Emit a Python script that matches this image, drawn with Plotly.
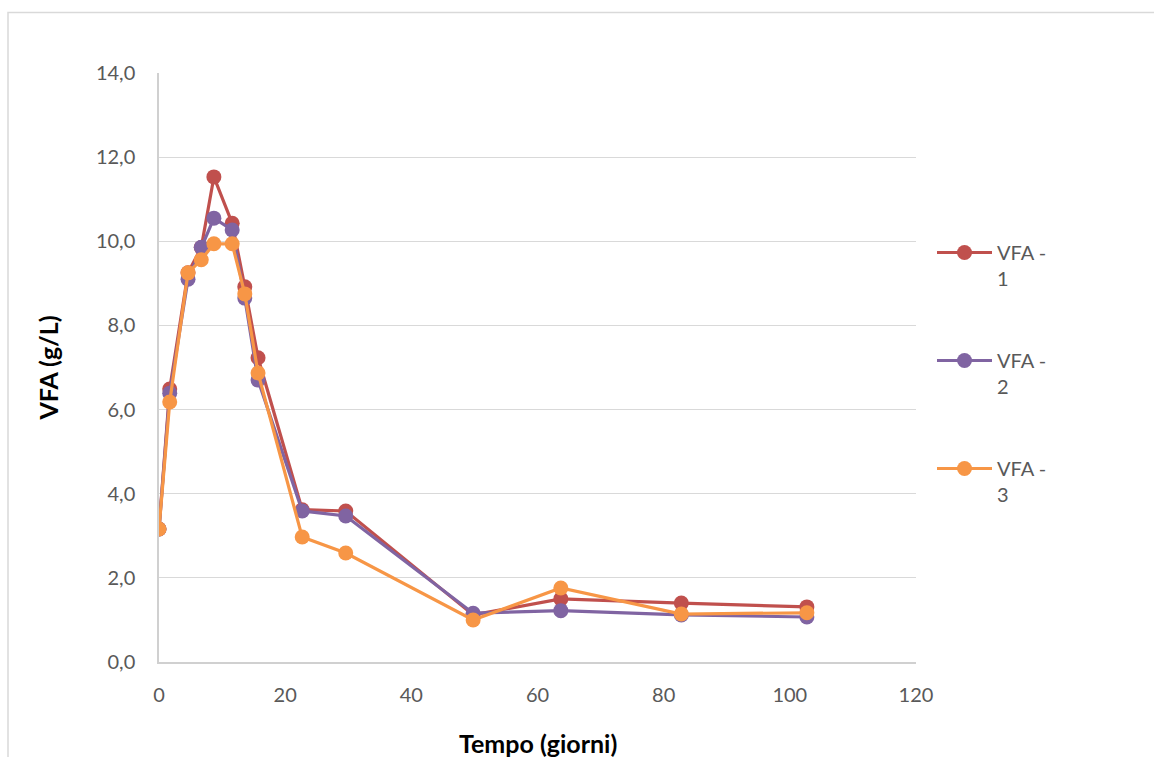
import plotly.graph_objects as go

# Sampling days and VFA concentrations (g/L) for the three reactors
giorni = [0, 1.7, 4.6, 6.7, 8.7, 11.6, 13.6, 15.7, 22.7, 29.6, 49.8, 63.7, 82.8, 102.7]
vfa_1 = [3.16, 6.49, 9.25, 9.85, 11.53, 10.43, 8.92, 7.23, 3.62, 3.59, 1.12, 1.50, 1.40, 1.31]
vfa_2 = [3.16, 6.39, 9.10, 9.86, 10.55, 10.27, 8.65, 6.70, 3.59, 3.47, 1.16, 1.22, 1.12, 1.07]
vfa_3 = [3.16, 6.18, 9.25, 9.56, 9.94, 9.94, 8.75, 6.87, 2.97, 2.59, 1.00, 1.76, 1.14, 1.17]

serie = [
    ("VFA -<br>1", vfa_1, "#C0504D"),
    ("VFA -<br>2", vfa_2, "#8064A2"),
    ("VFA -<br>3", vfa_3, "#F79646"),
]

FONT = "Lato"
W, H = 1154, 757
L, R, T, B = 159, 916, 73, 662

fig = go.Figure()
for i, (nome, valori, colore) in enumerate(serie):
    fig.add_trace(go.Scatter(
        x=giorni, y=valori, name=nome, mode="lines+markers",
        legendgroup=f"g{i}",
        line=dict(color=colore, width=3.2),
        marker=dict(color=colore, size=15),
    ))

pw, ph = R - L, B - T


def px_x(p):
    return (p - L) / pw


def px_y(p):
    return (B - p) / ph


fig.update_layout(
    width=W, height=H,
    margin=dict(l=L, r=W - R, t=T, b=H - B, autoexpand=False),
    paper_bgcolor="white", plot_bgcolor="white",
    separators=",.",
    font=dict(family=FONT, size=20, color="#595959"),
    showlegend=True,
    legend=dict(
        x=px_x(932), y=px_y(233), xanchor="left", yanchor="top",
        valign="top", tracegroupgap=53, itemwidth=55,
        font=dict(family=FONT, size=20, color="#595959"),
        bgcolor="rgba(0,0,0,0)",
    ),
    xaxis=dict(
        range=[0, 120], dtick=20, tick0=0,
        showgrid=False, zeroline=False,
        showline=True, linecolor="#D0D0D0", linewidth=1.5,
        ticks="", ticklabelstandoff=14,
        tickfont=dict(family=FONT, size=20, color="#595959"),
    ),
    yaxis=dict(
        range=[0, 14], dtick=2, tick0=0, tickformat=".1f",
        showgrid=True, gridcolor="#D9D9D9", gridwidth=1.3,
        zeroline=False,
        showline=True, linecolor="#D0D0D0", linewidth=1.5,
        ticks="", ticklabelstandoff=18,
        tickfont=dict(family=FONT, size=20, color="#595959"),
        title=dict(text="<b>VFA (g/L)</b>", standoff=30,
                   font=dict(family=FONT, size=25, color="black")),
    ),
    annotations=[dict(
        text="<b>Tempo (giorni)</b>", xref="paper", yref="paper",
        x=0.5, y=px_y(743), xanchor="center", yanchor="middle",
        showarrow=False, font=dict(family=FONT, size=25, color="black"),
    )],
    shapes=[dict(
        type="rect", xref="paper", yref="paper", layer="below",
        x0=px_x(8), x1=px_x(W + 20), y0=px_y(H + 20), y1=px_y(12.5),
        line=dict(color="#D9D9D9", width=1.5), fillcolor="rgba(0,0,0,0)",
    )],
)

fig.write_html("out.html")
